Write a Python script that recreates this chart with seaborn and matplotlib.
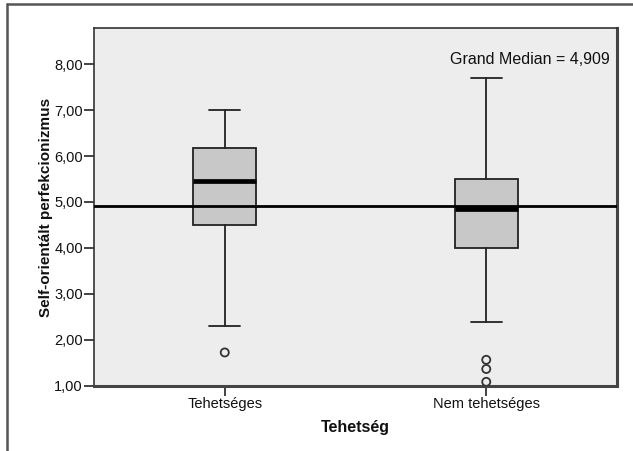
import matplotlib
matplotlib.use("Agg")
import matplotlib.pyplot as plt
from matplotlib.lines import Line2D
import pandas as pd
import seaborn as sns

# Box summary per talent group
groups = ["Tehetséges", "Nem tehetséges"]
whisker_low = [2.29, 2.38]
q1 = [4.49, 3.99]
medians = [5.45, 4.84]
q3 = [6.18, 5.50]
whisker_high = [7.00, 7.71]
outliers = [[1.72], [1.56, 1.36, 1.08]]
grand_median = 4.909

y_ticks = [1, 2, 3, 4, 5, 6, 7, 8]
y_tick_labels = ["1,00", "2,00", "3,00", "4,00", "5,00", "6,00", "7,00", "8,00"]

sns.set_theme(style="white")
plt.rcParams["font.family"] = ["Liberation Sans Narrow", "Liberation Sans", "DejaVu Sans"]

fig = plt.figure(figsize=(6.33, 4.51), dpi=100)
ax = fig.add_axes([94 / 633, 1 - 385.5 / 451, (617 - 94) / 633, (385.5 - 28.5) / 451])
ax.set_facecolor("#EDEDED")

# Outlying cases as open circles on the categorical axis
flier_df = pd.DataFrame(
    [(g, v) for g, vals in zip(groups, outliers) for v in vals],
    columns=["Tehetség", "value"],
)
sns.stripplot(
    data=flier_df, x="Tehetség", y="value", order=groups, jitter=False,
    marker="o", size=5.8, facecolor="none", edgecolor="#333333", linewidth=1.3,
    color="none", ax=ax, zorder=4,
)

stats = [
    dict(whislo=lo, q1=a, med=m, q3=b, whishi=hi, fliers=[], label=g)
    for g, lo, a, m, b, hi in zip(groups, whisker_low, q1, medians, q3, whisker_high)
]
ax.bxp(
    stats, positions=range(len(groups)), widths=0.24, capwidths=0.12,
    patch_artist=True, showfliers=False, manage_ticks=False,
    boxprops=dict(facecolor="#C8C8C8", edgecolor="#222222", linewidth=1.3),
    whiskerprops=dict(color="#222222", linewidth=1.3),
    capprops=dict(color="#222222", linewidth=1.3),
    medianprops=dict(color="#000000", linewidth=3.4),
    zorder=3,
)

# Grand median reference line
ax.axhline(grand_median, color="#000000", linewidth=2.0, zorder=5)
ax.text(0.987, 0.912, "Grand Median = " + f"{grand_median:.3f}".replace(".", ","),
        transform=ax.transAxes, ha="right", va="center", fontsize=11.5, color="#111111")

ax.set_xlim(-0.5, 1.5)
ax.set_ylim(1.0, 8.78)
ax.set_yticks(y_ticks)
ax.set_yticklabels(y_tick_labels)
ax.set_xticks(range(len(groups)))
ax.set_xticklabels(groups)
ax.tick_params(axis="both", direction="out", length=7, width=1.2, color="#222222",
               labelsize=10.5, labelcolor="#111111", left=True, bottom=True, pad=1)

ax.set_xlabel("Tehetség", fontsize=11.5, fontweight="bold", color="#111111", labelpad=7)
ax.set_ylabel("Self-orientált perfekcionizmus", fontsize=11, fontweight="bold",
              color="#111111", labelpad=1)

for side in ["left", "top"]:
    ax.spines[side].set_color("#333333")
    ax.spines[side].set_linewidth(1.2)
for side in ["right", "bottom"]:
    ax.spines[side].set_color("#444444")
    ax.spines[side].set_linewidth(2.2)

# Frame lines along the top and left edges of the figure
fig.add_artist(Line2D([7 / 633, 1], [1 - 4 / 451, 1 - 4 / 451], transform=fig.transFigure,
                      color="#555555", linewidth=1.8))
fig.add_artist(Line2D([7 / 633, 7 / 633], [0, 1 - 4 / 451], transform=fig.transFigure,
                      color="#555555", linewidth=1.8))

fig.savefig("out.png", dpi=100, facecolor="white")
